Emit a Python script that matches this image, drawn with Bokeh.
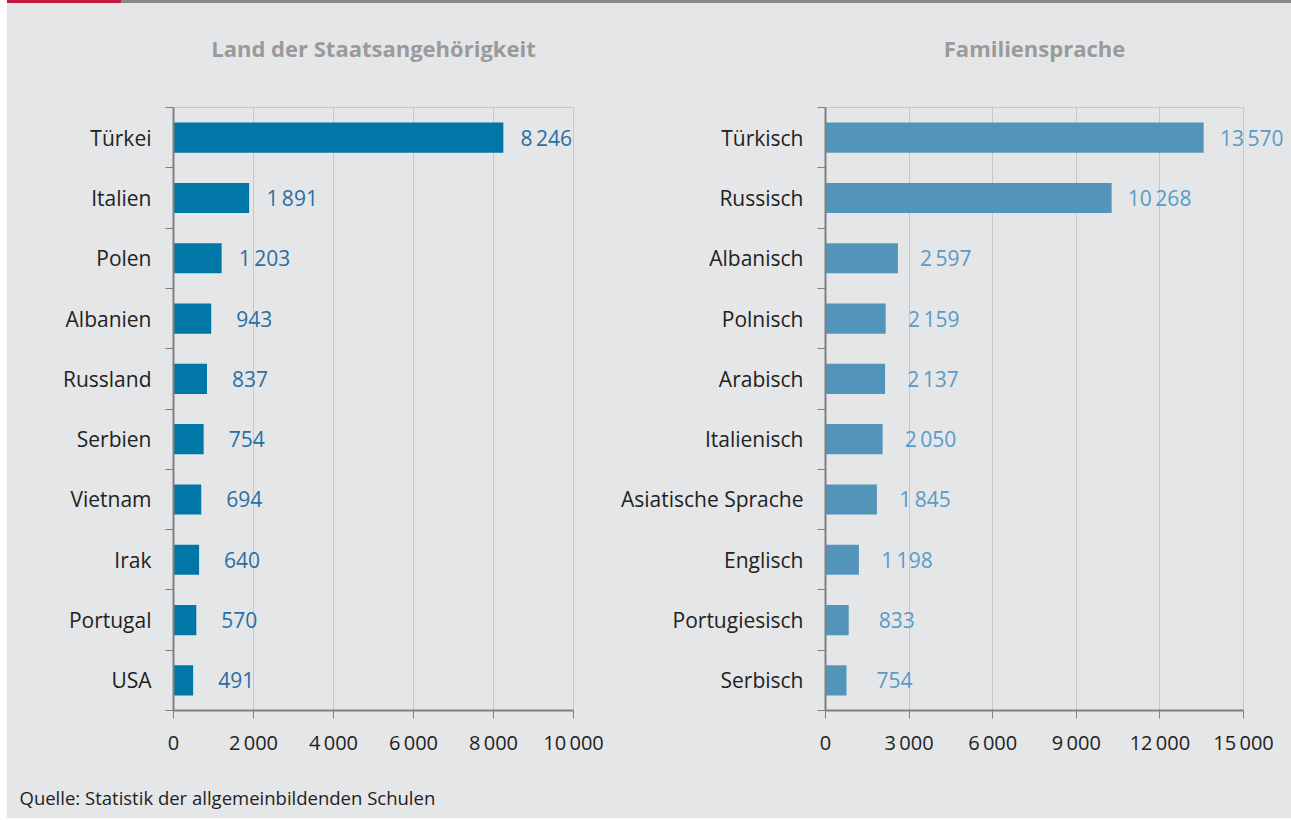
from bokeh.plotting import figure
from bokeh.layouts import row, column
from bokeh.models import (FixedTicker, LabelSet, Label, ColumnDataSource, Range1d, Spacer)
from bokeh.core.properties import value
from bokeh.embed import file_html
from bokeh.resources import INLINE

# ---------------- data ----------------
title_left = "Land der Staatsangehörigkeit"
countries = ["Türkei", "Italien", "Polen", "Albanien", "Russland", "Serbien",
             "Vietnam", "Irak", "Portugal", "USA"]
country_values = [8246, 1891, 1203, 943, 837, 754, 694, 640, 570, 491]
left_ticks = [0, 2000, 4000, 6000, 8000, 10000]

title_right = "Familiensprache"
languages = ["Türkisch", "Russisch", "Albanisch", "Polnisch", "Arabisch", "Italienisch",
             "Asiatische Sprache", "Englisch", "Portugiesisch", "Serbisch"]
language_values = [13570, 10268, 2597, 2159, 2137, 2050, 1845, 1198, 833, 754]
right_ticks = [0, 3000, 6000, 9000, 12000, 15000]

source_text = "Quelle: Statistik der allgemeinbildenden Schulen"

# ---------------- style / layout ----------------
BG = "#e5e6e8"
RED = "#c3163f"
RULE_GREY = "#8a8a8c"
FONT = "Open Sans"
AXIS_COL = "#808080"
GRID_COL = "#c6c7c9"
TOTAL = 1291
LEFT_PAD = 7
SPLIT = 612           # page x where the right panel's figure starts
TOP_BAR_H = 3
FIG_H = 762           # main figures: page y 3 .. 765
FRAME_TOP_PX = 107    # page y of the first category boundary
FRAME_BOT_PX = 710    # page y of the x axis
TITLE_PX = 47         # page y of the panel titles


def fmt(v):
    return f"{v:,}".replace(",", "\u2009")


def panel(title, cats, vals, ticks, bar_color, label_color, width, mbl, axis_len_px,
          label_off):
    n = len(cats)
    frame_w = width - mbl
    x_end = ticks[-1] * frame_w / axis_len_px
    ppu = (FRAME_BOT_PX - FRAME_TOP_PX) / n
    y_end = n + (FRAME_TOP_PX - TOP_BAR_H) / ppu
    mbb = FIG_H - (FRAME_BOT_PX - TOP_BAR_H)

    p = figure(width=width, height=FIG_H, x_range=Range1d(0, x_end),
               y_range=Range1d(0, y_end), output_backend="svg", toolbar_location=None,
               min_border_left=mbl, min_border_right=0, min_border_top=0,
               min_border_bottom=mbb,
               background_fill_color=BG, border_fill_color=BG,
               outline_line_color=None)
    centers = [n - i - 0.5 for i in range(n)]
    src = ColumnDataSource(dict(y=centers, v=vals, t=[fmt(v) for v in vals]))
    p.hbar(y="y", right="v", left=0, height=0.5, source=src, fill_color=bar_color,
           line_color=None)

    # x axis
    xa = p.xaxis[0]
    xa.bounds = (0, ticks[-1])
    xa.ticker = FixedTicker(ticks=ticks, minor_ticks=[])
    xa.major_label_overrides = {t: fmt(t) for t in ticks}
    xa.axis_line_color = AXIS_COL
    xa.axis_line_width = 2
    xa.major_tick_line_color = AXIS_COL
    xa.major_tick_line_width = 1
    xa.major_tick_out = 8
    xa.major_tick_in = 0
    xa.major_label_text_font = FONT
    xa.major_label_text_font_size = "20px"
    xa.major_label_text_color = "#222222"
    xa.major_label_standoff = 10

    # y axis: labels at the category centres, tick marks at the boundaries
    ya = p.yaxis[0]
    ya.bounds = (0, n)
    ya.ticker = FixedTicker(ticks=centers, minor_ticks=list(range(n + 1)))
    ya.major_label_overrides = {c: cat for c, cat in zip(centers, cats)}
    ya.axis_line_color = AXIS_COL
    ya.axis_line_width = 2
    ya.major_tick_line_color = None
    ya.major_tick_out = 8
    ya.major_tick_in = 0
    ya.minor_tick_line_color = AXIS_COL
    ya.minor_tick_out = 8
    ya.minor_tick_in = 0
    ya.major_label_text_font = FONT
    ya.major_label_text_font_size = "21px"
    ya.major_label_text_color = "#222222"
    ya.major_label_standoff = 14

    p.xgrid.grid_line_color = GRID_COL
    p.xgrid.ticker = FixedTicker(ticks=ticks, minor_ticks=[])
    p.xgrid.cross_bounds = (0, n)
    # top edge of the plot area
    p.ygrid.ticker = FixedTicker(ticks=[n], minor_ticks=[])
    p.ygrid.cross_bounds = (0, ticks[-1])
    p.ygrid.grid_line_color = GRID_COL

    labels = LabelSet(x="v", y="y", text="t", source=src, x_offset=label_off,
                      text_baseline="middle", text_align="center",
                      text_font=value(FONT), text_font_size=value("21px"),
                      text_color=label_color)
    p.add_layout(labels)

    p.add_layout(Label(x=ticks[-1] / 2, y=n + (FRAME_TOP_PX - TITLE_PX) / ppu,
                       text=title, text_align="center", text_baseline="middle",
                       text_font=FONT, text_font_size="22px", text_font_style="bold",
                       text_color="#9a9a9a"))
    return p


W1 = SPLIT - LEFT_PAD
W2 = TOTAL - SPLIT
p1 = panel(title_left, countries, country_values, left_ticks, "#0077a6", "#2a6fa3",
           W1, 173 - LEFT_PAD, 400, 43)
p2 = panel(title_right, languages, language_values, right_ticks, "#5394bb", "#5a9bc6",
           W2, 825 - SPLIT, 418, 48)

TOTAL_W = W1 + W2

# footer with the source line
FOOT_H = 818 - TOP_BAR_H - FIG_H
foot = figure(width=TOTAL_W, height=FOOT_H, x_range=Range1d(0, TOTAL_W),
              y_range=Range1d(0, FOOT_H), output_backend="svg", toolbar_location=None,
              min_border=0, x_axis_location=None, y_axis_location=None,
              background_fill_color=BG, border_fill_color=BG, outline_line_color=None)
foot.grid.visible = False
foot.add_layout(Label(x=19 - LEFT_PAD, y=818 - 797, text=source_text, text_align="left",
                      text_baseline="middle", text_font=FONT, text_font_size="18.5px",
                      text_color="#222222"))

white = {"background-color": "#ffffff"}
top_row = row(
    Spacer(width=LEFT_PAD, height=TOP_BAR_H, styles=white),
    Spacer(width=114, height=TOP_BAR_H, styles={"background-color": RED}),
    Spacer(width=TOTAL_W - 114, height=TOP_BAR_H, styles={"background-color": RULE_GREY}),
    spacing=0,
)
main_row = row(Spacer(width=LEFT_PAD, height=FIG_H, styles=white), p1, p2, spacing=0,
               styles={"background-color": BG})
foot_row = row(Spacer(width=LEFT_PAD, height=FOOT_H, styles=white), foot, spacing=0,
               styles={"background-color": BG})

layout = column(top_row, main_row, foot_row, spacing=0)
open("out.html", "w").write(file_html(layout, INLINE))
